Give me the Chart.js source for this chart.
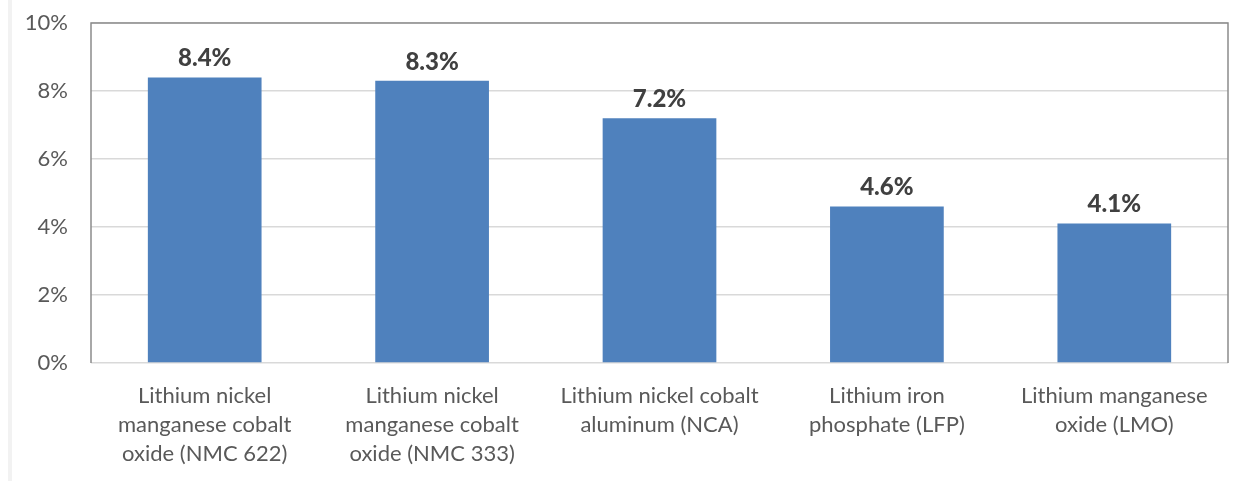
<!DOCTYPE html>
<html>
<head>
<meta charset="utf-8">
<script src="https://cdn.jsdelivr.net/npm/chart.js@4"></script>
<style>
    html, body { margin: 0; padding: 0; background: #fff; }
    #wrap { position: relative; width: 1253px; height: 481px; }
    #strip { position: absolute; left: 8px; top: 0; width: 4px; height: 481px; background: #f2f2f2; }
    canvas { position: absolute; left: 0; top: 0; }
</style>
</head>
<body>
<div id="wrap">
    <div id="strip"></div>
    <canvas id="cathode-chart" width="1253" height="481"></canvas>
</div>
<script>
// Categories (cathode chemistries), split into the lines shown under each bar
const categories = [
    ['Lithium nickel', 'manganese cobalt', 'oxide (NMC 622)'],
    ['Lithium nickel', 'manganese cobalt', 'oxide (NMC 333)'],
    ['Lithium nickel cobalt', 'aluminum (NCA)'],
    ['Lithium iron', 'phosphate (LFP)'],
    ['Lithium manganese', 'oxide (LMO)']
];
// Values in percent
const values = [8.4, 8.3, 7.2, 4.6, 4.1];
// Y axis range
const yMin = 0;
const yMax = 10;
const yStep = 2;

const fontFamily = 'Lato, "Liberation Sans", sans-serif';

// Draws the dark frame on top, left and right of the plot area
const frameBox = {
    id: 'frameBox',
    afterDraw(chart) {
        const { ctx, chartArea } = chart;
        ctx.save();
        ctx.strokeStyle = '#8c8c8c';
        ctx.lineWidth = 1.5;
        ctx.beginPath();
        ctx.moveTo(chartArea.left, chartArea.bottom);
        ctx.lineTo(chartArea.left, chartArea.top);
        ctx.lineTo(chartArea.right, chartArea.top);
        ctx.lineTo(chartArea.right, chartArea.bottom);
        ctx.stroke();
        ctx.restore();
    }
};

// Value labels above each bar
const valueLabels = {
    id: 'valueLabels',
    afterDatasetsDraw(chart) {
        const { ctx } = chart;
        const meta = chart.getDatasetMeta(0);
        ctx.save();
        ctx.font = '900 24px ' + fontFamily;
        ctx.fillStyle = '#404040';
        ctx.textAlign = 'center';
        ctx.textBaseline = 'bottom';
        meta.data.forEach((bar, i) => {
            ctx.fillText(values[i].toFixed(1) + '%', bar.x, bar.y - 7);
        });
        ctx.restore();
    }
};

const ctx = document.getElementById('cathode-chart');
const chart = new Chart(ctx, {
    type: 'bar',
    data: {
        labels: categories,
        datasets: [{
            data: values,
            backgroundColor: '#4f81bd',
            borderWidth: 0,
            barPercentage: 0.5,
            categoryPercentage: 1.0
        }]
    },
    options: {
        responsive: false,
        animation: false,
        layout: {
            padding: { left: 0, top: 23, right: 25, bottom: 0 }
        },
        plugins: {
            legend: { display: false },
            tooltip: { enabled: false }
        },
        scales: {
            x: {
                grid: { display: false, drawTicks: false },
                border: { display: false },
                ticks: {
                    color: '#595959',
                    font: { family: fontFamily, size: 22, lineHeight: 1.3 },
                    padding: 19,
                    maxRotation: 0,
                    autoSkip: false
                },
                afterFit(scale) {
                    scale.height = 118;
                    scale.paddingLeft = 0;
                    scale.paddingRight = 0;
                }
            },
            y: {
                min: yMin,
                max: yMax,
                grid: { color: '#d9d9d9', lineWidth: 1.5, drawTicks: false },
                border: { display: false },
                ticks: {
                    stepSize: yStep,
                    color: '#595959',
                    font: { family: fontFamily, size: 22 },
                    padding: 23,
                    callback: v => v + '%'
                },
                afterFit(scale) {
                    scale.width = 91;
                    scale.paddingTop = 0;
                    scale.paddingBottom = 0;
                }
            }
        }
    },
    plugins: [frameBox, valueLabels]
});
</script>
</body>
</html>
